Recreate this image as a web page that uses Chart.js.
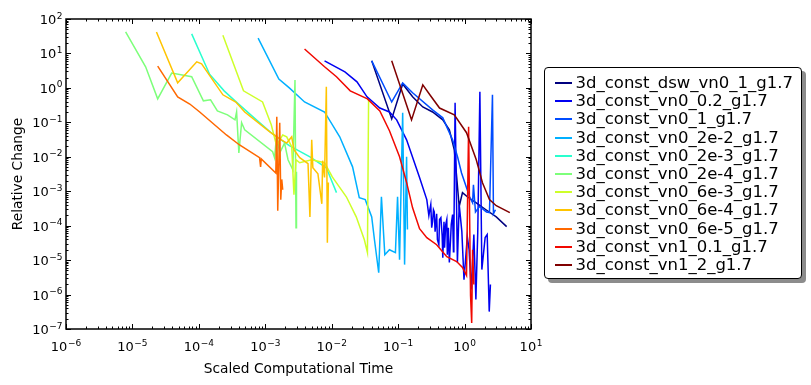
<!DOCTYPE html>
<html>
<head>
<meta charset="utf-8">
<script src="https://cdn.jsdelivr.net/npm/chart.js@4.4.1/dist/chart.umd.min.js"></script>
<style>
  html, body { margin: 0; padding: 0; background: #fff; }
  #wrap { position: relative; width: 811px; height: 385px; }
  #legend {
    position: absolute; left: 543.5px; top: 66.5px; width: 256px; height: 210px;
    border: 1.5px solid #000; border-radius: 4px;
    background: #fff; box-shadow: 4px 4px 0 #8c8c8c;
    font-family: "DejaVu Sans", sans-serif; font-size: 16.5px; color: #000;
  }
  .row { position: absolute; left: 0; height: 18px; line-height: 18px; white-space: nowrap; }
  .sw { position: absolute; left: 10px; top: 8px; width: 17px; height: 2px; }
  .lbl { position: absolute; left: 31px; top: 0; }
</style>
</head>
<body>
<div id="wrap">
  <canvas id="chart" width="811" height="385"></canvas>
  <div id="legend"></div>
</div>
<script>
// noms des séries, dans l'ordre de la légende
const seriesNames = [
  '3d_const_dsw_vn0_1_g1.7', '3d_const_vn0_0.2_g1.7', '3d_const_vn0_1_g1.7',
  '3d_const_vn0_2e-2_g1.7', '3d_const_vn0_2e-3_g1.7', '3d_const_vn0_2e-4_g1.7',
  '3d_const_vn0_6e-3_g1.7', '3d_const_vn0_6e-4_g1.7', '3d_const_vn0_6e-5_g1.7',
  '3d_const_vn1_0.1_g1.7', '3d_const_vn1_2_g1.7'
];
// couleurs "jet"
const seriesColors = ['#00007f', '#0000f1', '#004cff', '#00b0ff', '#29ffce', '#7dff7a',
  '#ceff29', '#ffc400', '#ff6800', '#f10800', '#800000'];

// temps (x) et variation relative (y) de chaque série
const t_dsw_vn0_1 = [0.040, 0.080, 0.117, 0.165, 0.235, 0.33, 0.47, 0.59, 0.70, 0.76, 0.83, 0.93, 1.1, 1.5, 2.1, 3.0, 4.3];
const rc_dsw_vn0_1 = [6.1, 0.126, 1.3, 0.55, 0.28, 0.2, 0.118, 0.061, 0.016, 2.6e-3, 3.6e-4, 9.1e-4, 6.9e-4, 4.6e-4, 2.9e-4, 1.8e-4, 9.4e-5];

const t_vn0_02 = [7.8e-3, 0.0158, 0.024, 0.034, 0.053, 0.074, 0.095, 0.134, 0.21, 0.27, 0.29, 0.30, 0.31, 0.32, 0.33, 0.34, 0.35, 0.36, 0.38, 0.39,
  0.41, 0.42, 0.44, 0.46, 0.47, 0.49, 0.50, 0.52, 0.54, 0.55, 0.57, 0.59, 0.615, 0.63, 0.66, 0.68, 0.69, 0.72, 0.78, 0.83,
  0.91, 0.98, 1.1, 1.17, 1.26, 1.38, 1.48, 1.58, 1.70, 1.82, 2.04, 2.19, 2.35, 2.45];
const rc_vn0_02 = [6.1, 2.9, 1.5, 0.55, 0.26, 0.2, 0.118, 0.031, 2.5e-3, 5.7e-4, 1.95e-4, 2.9e-4, 4.1e-4, 8.7e-5, 1.3e-4, 2.9e-4, 2.5e-4, 6.7e-5, 2.2e-4, 3.9e-5,
  2.8e-5, 1.5e-4, 1.7e-4, 5.1e-5, 1.18e-5, 1.3e-4, 2.3e-5, 1.07e-4, 1.5e-4, 1.44e-5, 8.7e-5, 8.5e-6, 3.9e-5, 1.07e-4, 2.1e-4, 1.76e-5, 3.9e-5, 0.37, 8.5e-6, 4.1e-4,
  6.7e-5, 2.7e-6, 4.8e-5, 2.0e-5, 1.4e-6, 5.5e-5, 7.2e-7, 6.7e-5, 0.77, 5.3e-6, 4.5e-5, 5.5e-5, 3.2e-7, 1.95e-6];

const t_vn0_1 = [0.040, 0.080, 0.117, 0.165, 0.33, 0.47, 0.66, 0.79, 0.90, 1.07, 1.19, 1.32, 1.36, 1.46, 1.68, 2.14, 2.37, 2.63, 2.72, 2.92];
const rc_vn0_1 = [6.1, 0.39, 1.4, 0.72, 0.23, 0.135, 0.031, 9.4e-3, 3.4e-3, 1.26e-3, 6.9e-4, 4.6e-4, 1.54e-3, 2.5e-4, 3.6e-4, 2.5e-4, 2.4e-4, 0.63, 2.2e-4, 2.9e-4];

const t_vn0_2em2 = [7.8e-4, 1.6e-3, 2.3e-3, 3.9e-3, 7.8e-3, 0.0132, 0.0206, 0.026, 0.032, 0.04, 0.044, 0.051, 0.056, 0.063, 0.074, 0.091, 0.098, 0.105, 0.117, 0.125, 0.134, 0.138];
const rc_vn0_2em2 = [28, 1.8, 1.0, 0.39, 0.2, 0.038, 5.1e-3, 6.5e-4, 5.7e-4, 1.8e-4, 3.9e-5, 4.3e-6, 6.9e-4, 1.44e-5, 2.0e-5, 1.65e-5, 6.9e-4, 1.03e-5, 0.19, 7.4e-6, 0.01, 7.7e-5];

const t_vn0_2em3 = [7.8e-5, 1.45e-4, 2.4e-4, 3.5e-4, 5.8e-4, 1.29e-3, 2.3e-3, 4.7e-3, 8.3e-3, 0.0118];
const rc_vn0_2em3 = [37, 2.5, 0.82, 0.42, 0.176, 0.046, 0.021, 0.01, 4.8e-3, 9.1e-4];

const t_vn0_2em4 = [7.9e-6, 1.58e-5, 2.4e-5, 3.9e-5, 7.8e-5, 1.17e-4, 1.5e-4, 1.9e-4, 2.7e-4, 3.5e-4, 3.7e-4, 4.0e-4, 4.4e-4, 4.9e-4,
  1.29e-3, 1.38e-3, 1.48e-3, 1.65e-3, 1.95e-3, 2.2e-3, 2.6e-3, 2.8e-3, 2.9e-3, 2.95e-3];
const rc_vn0_2em4 = [42, 4.1, 0.48, 2.7, 2.1, 0.42, 0.45, 0.215, 0.165, 0.118, 0.2, 0.013, 0.097, 0.061,
  0.014, 9.4e-3, 0.043, 0.013, 0.025, 8.2e-3, 4.2e-3, 1.7, 8.7e-5, 3.7e-3];

const t_vn0_6em3 = [2.3e-4, 4.7e-4, 9.1e-4, 1.23e-3, 1.48e-3, 1.83e-3, 2.1e-3, 2.5e-3, 2.7e-3, 2.9e-3, 3.3e-3, 5.0e-3, 7.8e-3, 0.0102, 0.0166, 0.0234, 0.031, 0.0345, 0.0359];
const rc_vn0_6em3 = [34, 0.82, 0.39, 0.085, 0.021, 0.043, 0.038, 0.0195, 7.9e-4, 8.2e-3, 6.7e-3, 8.2e-3, 6.7e-3, 2.6e-3, 6.9e-4, 1.8e-4, 3.9e-5, 1.65e-5, 0.45];

const t_vn0_6em4 = [2.3e-5, 4.8e-5, 9.3e-5, 1.1e-4, 2.3e-4, 3.6e-4, 4.9e-4, 1.17e-3, 1.65e-3, 2.1e-3, 2.5e-3, 2.7e-3, 3.3e-3, 4.4e-3, 4.7e-3, 5.0e-3, 5.2e-3, 6.2e-3, 7.1e-3, 7.3e-3, 7.8e-3, 8.3e-3, 8.6e-3, 8.9e-3];
const rc_vn0_6em4 = [42, 1.4, 5.7, 5.0, 0.63, 0.39, 0.2, 0.053, 0.033, 0.025, 0.038, 0.016, 9.4e-3, 6.3e-3, 1.8e-4, 0.031, 4.8e-3, 3.2e-3, 4.3e-4, 7.7e-3, 2.5e-3, 1.07, 3.2e-5, 1.8e-3];

const t_vn0_6em5 = [2.4e-5, 4.8e-5, 7.3e-5, 1.03e-4, 2.6e-4, 4.1e-4, 8.2e-4, 8.5e-4, 8.7e-4, 1.44e-3, 1.49e-3, 1.54e-3, 1.65e-3, 1.71e-3, 1.77e-3, 1.83e-3];
const rc_vn0_6em5 = [4.3, 0.55, 0.34, 0.2, 0.043, 0.022, 9.4e-3, 5.1e-3, 8.7e-3, 3.4e-3, 0.144, 2.7e-4, 0.097, 5.7e-4, 2.2e-3, 1.1e-3];

const t_vn1_01 = [3.9e-3, 7.8e-3, 0.0118, 0.019, 0.0345, 0.053, 0.074, 0.105, 0.134, 0.165, 0.21, 0.27, 0.38, 0.54, 0.76, 0.93, 1.07, 1.15, 1.23, 1.28, 1.32, 1.38];
const rc_vn1_01 = [13.5, 4.1, 2.1, 0.82, 0.48, 0.215, 0.057, 0.01, 1.8e-3, 3.3e-4, 8.2e-5, 4.5e-5, 2.8e-5, 1.26e-5, 9.1e-6, 6.1e-6, 3.6e-6, 0.074, 9.4e-7, 1.5e-7, 2.0e-5, 1.95e-6];

const t_vn1_2 = [0.080, 0.159, 0.235, 0.30, 0.42, 0.70, 1.07, 1.5, 1.86, 2.37, 3.0, 4.8];
const rc_vn1_2 = [6.1, 0.118, 1.22, 0.63, 0.26, 0.165, 0.05, 8.2e-3, 1.76e-3, 5.7e-4, 3.8e-4, 2.4e-4];

// graduations principales et leurs exposants
const xTicks = [1e-6, 1e-5, 1e-4, 1e-3, 1e-2, 1e-1, 1e0, 1e1];
const xTickExp = ['−6', '−5', '−4', '−3', '−2', '−1', '0', '1'];
const yTicks = [1e-7, 1e-6, 1e-5, 1e-4, 1e-3, 1e-2, 1e-1, 1e0, 1e1, 1e2];
const yTickExp = ['−7', '−6', '−5', '−4', '−3', '−2', '−1', '0', '1', '2'];

const allT = [t_dsw_vn0_1, t_vn0_02, t_vn0_1, t_vn0_2em2, t_vn0_2em3, t_vn0_2em4, t_vn0_6em3, t_vn0_6em4, t_vn0_6em5, t_vn1_01, t_vn1_2];
const allRc = [rc_dsw_vn0_1, rc_vn0_02, rc_vn0_1, rc_vn0_2em2, rc_vn0_2em3, rc_vn0_2em4, rc_vn0_6em3, rc_vn0_6em4, rc_vn0_6em5, rc_vn1_01, rc_vn1_2];

const datasets = seriesNames.map((name, i) => ({
  label: name,
  data: allT[i].map((t, j) => ({ x: t, y: allRc[i][j] })),
  borderColor: seriesColors[i],
  borderWidth: 1.5,
  pointRadius: 0,
  tension: 0,
  fill: false,
  order: seriesNames.length - i // la dernière série est dessinée au-dessus
}));

// axes façon matplotlib : cadre, graduations vers l'intérieur, étiquettes 10^n
const mplAxes = {
  id: 'mplAxes',
  afterDatasetsDraw(chart) {
    const { ctx, chartArea: a, scales: { x, y } } = chart;
    ctx.save();
    ctx.strokeStyle = '#000';
    ctx.fillStyle = '#000';
    ctx.lineWidth = 1;
    const tick = (px, py, dx, dy) => { ctx.beginPath(); ctx.moveTo(px, py); ctx.lineTo(px + dx, py + dy); ctx.stroke(); };

    xTicks.forEach((v, k) => {
      for (let m = 1; m < 10; m++) {
        if (m > 1 && k === xTicks.length - 1) break;
        const px = Math.round(x.getPixelForValue(v * m)) + 0.5;
        const len = m === 1 ? 5 : 2.5;
        tick(px, a.bottom, 0, -len);
        tick(px, a.top, 0, len);
      }
    });
    yTicks.forEach((v, k) => {
      for (let m = 1; m < 10; m++) {
        if (m > 1 && k === yTicks.length - 1) break;
        const py = Math.round(y.getPixelForValue(v * m)) + 0.5;
        const len = m === 1 ? 5 : 2.5;
        tick(a.left, py, len, 0);
        tick(a.right, py, -len, 0);
      }
    });

    ctx.lineWidth = 1.5;
    ctx.strokeRect(a.left, a.top, a.right - a.left, a.bottom - a.top);

    const base = '13px "DejaVu Sans"';
    const sup = '9px "DejaVu Sans"';
    ctx.textBaseline = 'alphabetic';
    ctx.textAlign = 'left';
    xTicks.forEach((v, k) => {
      const px = x.getPixelForValue(v);
      ctx.font = base; const w1 = ctx.measureText('10').width;
      ctx.font = sup; const w2 = ctx.measureText(xTickExp[k]).width;
      const x0 = px - (w1 + w2 + 0.5) / 2;
      ctx.font = base; ctx.fillText('10', x0, 351);
      ctx.font = sup; ctx.fillText(xTickExp[k], x0 + w1 + 0.5, 345.5);
    });
    yTicks.forEach((v, k) => {
      const py = y.getPixelForValue(v);
      ctx.font = base; const w1 = ctx.measureText('10').width;
      ctx.font = sup; const w2 = ctx.measureText(yTickExp[k]).width;
      const x0 = 62.5 - (w1 + w2 + 0.5);
      ctx.font = base; ctx.fillText('10', x0, py + 5);
      ctx.font = sup; ctx.fillText(yTickExp[k], x0 + w1 + 0.5, py - 0.5);
    });

    ctx.font = '13.75px "DejaVu Sans"';
    ctx.textAlign = 'center';
    ctx.fillText('Scaled Computational Time', (a.left + a.right) / 2, 373);
    ctx.translate(21.5, (a.top + a.bottom) / 2);
    ctx.rotate(-Math.PI / 2);
    ctx.fillText('Relative Change', 0, 0);
    ctx.restore();
  }
};

const chart = new Chart(document.getElementById('chart').getContext('2d'), {
  type: 'line',
  data: { datasets },
  options: {
    responsive: false,
    animation: false,
    layout: { padding: { top: 19, right: 280, left: 0, bottom: 0 } },
    plugins: { legend: { display: false }, tooltip: { enabled: false } },
    scales: {
      x: {
        type: 'logarithmic', min: 1e-6, max: 10,
        ticks: { display: false }, grid: { display: false }, border: { display: false },
        afterFit(s) { s.height = 56; }
      },
      y: {
        type: 'logarithmic', min: 1e-7, max: 100,
        ticks: { display: false }, grid: { display: false }, border: { display: false },
        afterFit(s) { s.width = 66; }
      }
    }
  },
  plugins: [mplAxes]
});

// légende HTML avec cadre et ombre, lignes placées sur des pixels entiers
const legend = document.getElementById('legend');
seriesNames.forEach((name, i) => {
  const row = document.createElement('div');
  row.className = 'row';
  row.style.top = Math.round(6 + i * 18.2) + 'px';
  const sw = document.createElement('span');
  sw.className = 'sw';
  sw.style.backgroundColor = seriesColors[i];
  const lbl = document.createElement('span');
  lbl.className = 'lbl';
  lbl.textContent = name;
  row.appendChild(sw);
  row.appendChild(lbl);
  legend.appendChild(row);
});
</script>
</body>
</html>
